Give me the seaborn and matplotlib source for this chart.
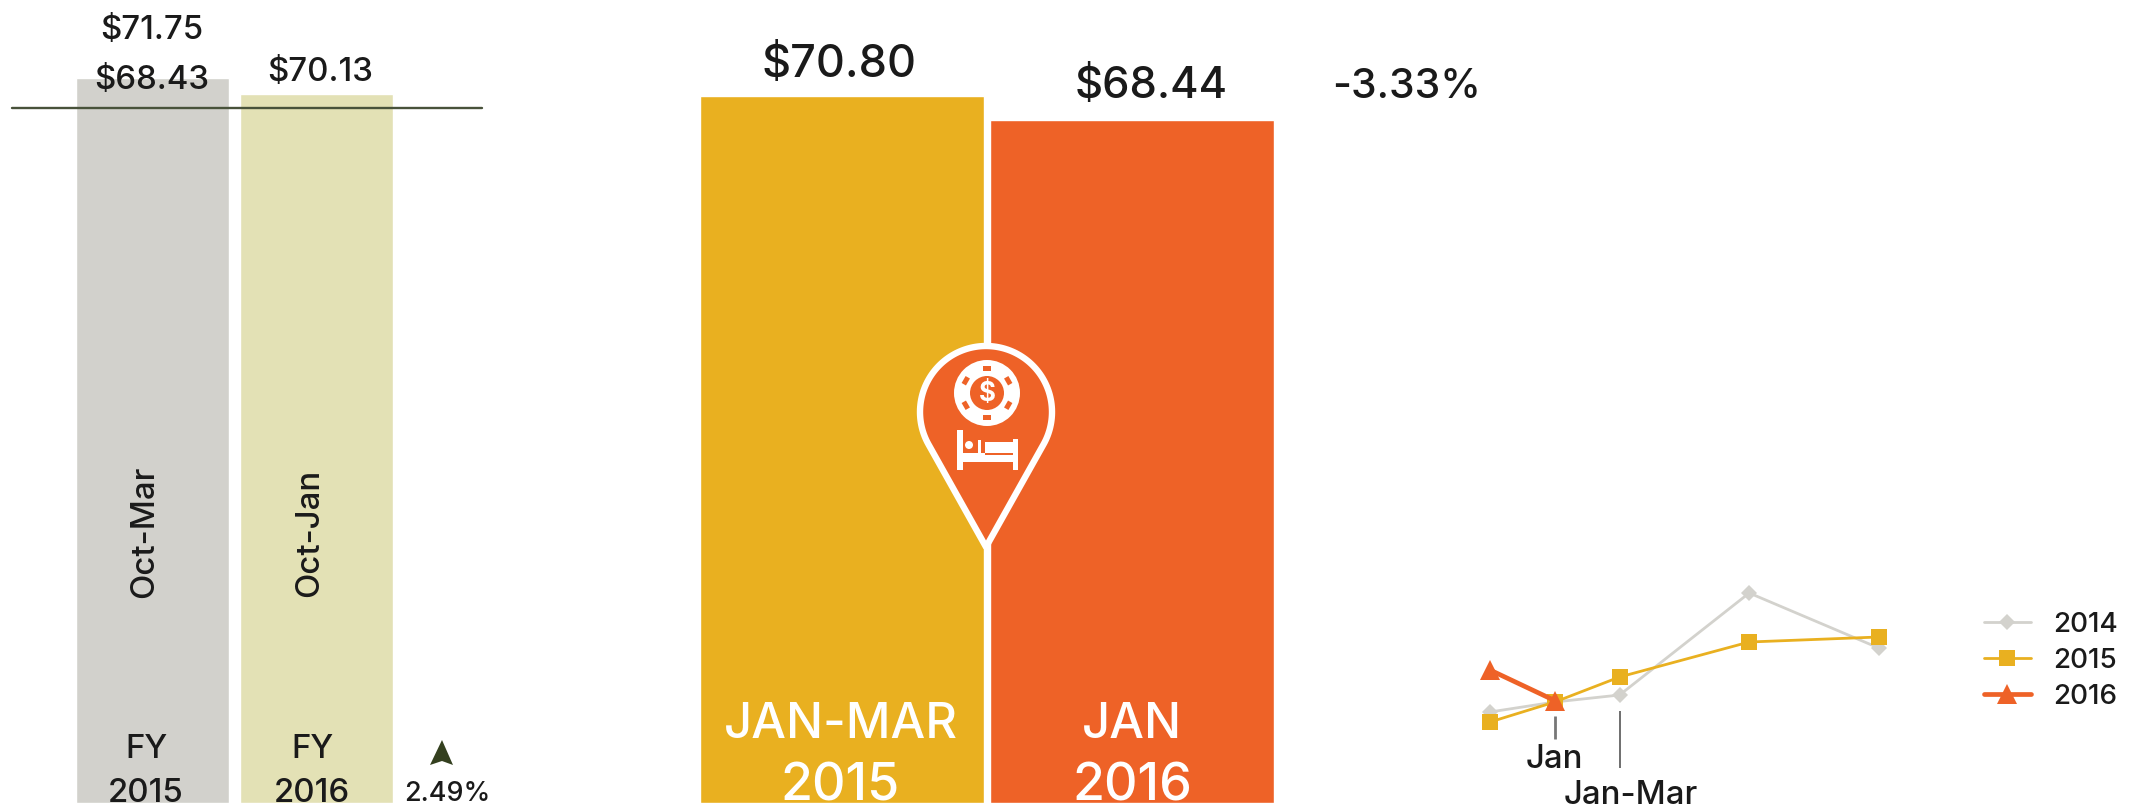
import numpy as np
import pandas as pd
import matplotlib
matplotlib.use('Agg')
import matplotlib.pyplot as plt
from matplotlib.patches import Circle, Polygon, Rectangle
from matplotlib.transforms import Affine2D
import seaborn as sns

# data
fy_labels = ['FY 2015', 'FY 2016']
fy_values = [71.75, 70.13]
fy_line_level = 68.8
fy_colors = ['#d2d1cc', '#e3e1b5']

period_labels = ['JAN-MAR 2015', 'JAN 2016']
period_values = [70.80, 68.44]
period_colors = ['#e9b020', '#ee6227']

trend_x = [0, 1, 2, 4, 6]
trend_2014 = [67.3, 68.3, 69.0, 79.2, 73.7]
trend_2015 = [66.3, 68.3, 70.8, 74.3, 74.8]
trend_2016 = [71.5, 68.44, np.nan, np.nan, np.nan]
trend_years = ['2014', '2015', '2016']
trend_colors = ['#d3d2cd', '#e9b020', '#ee6227']

W, H = 2143, 807
sns.set_theme(style='white')
plt.rcParams['font.family'] = ['Inter', 'DejaVu Sans']
plt.rcParams['font.weight'] = 'medium'

fig = plt.figure(figsize=(W / 100, H / 100), dpi=100)


def panel(x0, x1, y0, y1):
    # axes from pixel box of the reference
    ax = fig.add_axes([x0 / W, 1 - y1 / H, (x1 - x0) / W, (y1 - y0) / H])
    ax.set_facecolor('none')
    return ax


# 1. FY bars
ax1 = panel(0, 520, 0, 803)
sns.barplot(x=fy_labels, y=fy_values, hue=fy_labels, palette=fy_colors, width=0.933,
            saturation=1, legend=False, ax=ax1)
ax1.set_xlim((0 - 152.5) / 164, (520 - 152.5) / 164)
ax1.set_ylim(0, 803 / 10.105)
ax1.axhline(fy_line_level, xmin=12 / 520, xmax=482 / 520, color='#48523a', lw=1.7)
ax1.axis('off')

# 2. Jan comparison bars
ax2 = panel(680, 1300, 0, 803)
sns.barplot(x=period_labels, y=period_values, hue=period_labels, palette=period_colors,
            width=0.979, saturation=1, legend=False, ax=ax2)
ax2.set_xlim((680 - 842) / 290, (1300 - 842) / 290)
ax2.set_ylim(0, 803 / 9.986)
ax2.axis('off')

# 3. small trend lines
trend = pd.DataFrame({'x': trend_x * 3,
                      'value': trend_2014 + trend_2015 + trend_2016,
                      'year': np.repeat(trend_years, 5)})
ax3 = panel(1440, 2143, 560, 807)
sns.lineplot(data=trend, x='x', y='value', hue='year', style='year', palette=trend_colors,
             markers={'2014': 'D', '2015': 's', '2016': '^'}, dashes=False,
             errorbar=None, legend=False, ax=ax3)
for line, lw, ms in zip(ax3.lines, [2.0, 2.0, 3.4], [8, 12, 14]):
    line.set_linewidth(lw)
    line.set_markersize(ms)
    line.set_markeredgewidth(0)
ax3.set_xlim((1440 - 1490) / 64.8, (2143 - 1490) / 64.8)
ax3.set_ylim(70.8 - 13.0, 70.8 + 11.7)
ax3.vlines(1, 64.6, 66.9, color='#777777', lw=2)
ax3.vlines(2, 61.7, 67.4, color='#555555', lw=1.2)
ax3.legend(handles=list(ax3.lines[:3]), labels=trend_years, frameon=False, fontsize=20,
           loc='upper left', bbox_to_anchor=((1984 - 1440) / 703, (807 - 612) / 247),
           handlelength=1.68, handletextpad=0.8, labelspacing=0.36, borderaxespad=0, borderpad=0,
           labelcolor='#1a1a1a')
ax3.axis('off')

# overlay in pixel coordinates for labels and the pin
ov = panel(0, W, 0, H)
ov.set_xlim(0, W)
ov.set_ylim(H, 0)
ov.axis('off')


def label(x, y, s, px, color='#1a1a1a', **kw):
    ov.text(x, y, s, fontsize=px * 0.72, color=color, ha='center', va='center', **kw)


label(152, 31, '$71.75', 33)
label(152, 81, '$68.43', 33)
label(320, 72, '$70.13', 33)
label(145, 532, 'Oct-Mar', 33, rotation=90)
label(310, 533, 'Oct-Jan', 33, rotation=90)
label(146, 749, 'FY', 33)
label(146, 793, '2015', 33)
label(312, 749, 'FY', 33)
label(312, 793, '2016', 33)
label(447, 794, '2.49%', 27)
ov.add_patch(Polygon([(430, 765), (442, 740), (453, 765), (442, 761)], color='#34401f', lw=0))

label(839, 65, '$70.80', 45)
label(1151, 87, '$68.44', 43.5)
label(1407, 87, '-3.33%', 41)
label(841, 725, 'JAN-MAR', 49, color='white')
label(840, 787, '2015', 52, color='white')
label(1132, 725, 'JAN', 49, color='white')
label(1132, 787, '2016', 52, color='white')

label(1554, 759, 'Jan', 33)
label(1631, 795, 'Jan-Mar', 33)

# the pin over the gap between the two big bars
cx, cy, r, tip = 986, 412, 66, 547
alpha = np.arccos(r / (tip - cy))
theta = np.linspace(alpha, 2 * np.pi - alpha, 120)
outline = np.column_stack([cx + r * np.sin(theta), cy + r * np.cos(theta)])
outline = np.vstack([[cx, tip], outline])
ov.add_patch(Polygon(outline, closed=True, facecolor='#ee6227', edgecolor='white', lw=4.6,
                     joinstyle='round'))

# chip
ov.add_patch(Circle((987, 393), 33, color='white', lw=0))
for a in np.deg2rad([0, 60, 120, 180, 240, 300]):
    nx, ny = 987 + 24.5 * np.sin(a), 393 - 24.5 * np.cos(a)
    ov.add_patch(Rectangle((-4, -2.5), 8, 5, color='#ee6227', lw=0,
                           transform=Affine2D().rotate(a).translate(nx, ny) + ov.transData))
ov.add_patch(Circle((987, 393), 17, color='#ee6227', lw=0))
label(987, 394, '$', 26, color='white', fontweight='bold')

# bed
for x, y, w, h in [(957, 430, 6, 40), (957, 455, 61, 7), (1013, 439, 5, 31), (985, 442, 28, 11),
                   (963, 453, 22, 2), (978, 440, 3, 14)]:
    ov.add_patch(Rectangle((x, y), w, h, color='white', lw=0))
ov.add_patch(Circle((969, 445), 4, color='white', lw=0))

fig.savefig('out.png', dpi=100)
